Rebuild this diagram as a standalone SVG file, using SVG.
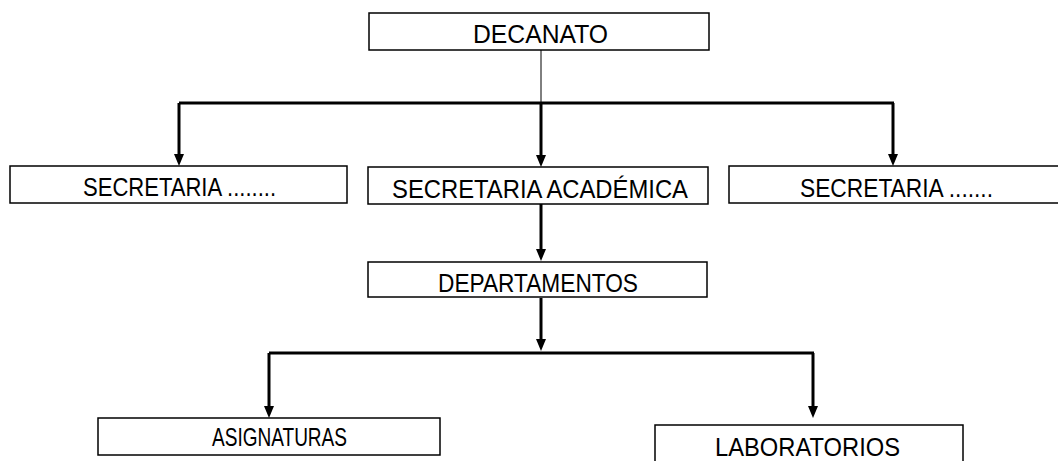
<svg xmlns="http://www.w3.org/2000/svg" width="1058" height="461" viewBox="0 0 1058 461">
<style>
.box{fill:#fff;stroke:#000;stroke-width:1.5}
.lbl{font-family:"Liberation Sans",Arial,sans-serif;font-size:26px;fill:#000}
.thick{stroke:#000;stroke-width:3;fill:none}
.thin{stroke:#000;stroke-width:1;fill:none}
</style>
<defs>
<marker id="ah" markerUnits="userSpaceOnUse" markerWidth="12" markerHeight="10" refX="0" refY="5" orient="auto" viewBox="0 0 12 10">
<path d="M0,0 L12,5 L0,10 Z" fill="#000"/>
</marker>
</defs>
<rect width="1058" height="461" fill="#fff"/>
<g id="connectors">
<line class="thin" x1="541" y1="50" x2="541" y2="103"/>
<line class="thick" x1="179" y1="103" x2="894" y2="103"/>
<path class="thick" d="M179,103 V154" marker-end="url(#ah)"/>
<path class="thick" d="M541,103 V155" marker-end="url(#ah)"/>
<path class="thick" d="M893,103 V154" marker-end="url(#ah)"/>
<path class="thick" d="M541,204 V249" marker-end="url(#ah)"/>
<path class="thick" d="M541,298 V339" marker-end="url(#ah)"/>
<line class="thick" x1="269" y1="353" x2="814" y2="353"/>
<path class="thick" d="M269,353 V406" marker-end="url(#ah)"/>
<path class="thick" d="M813,353 V406" marker-end="url(#ah)"/>
</g>
<g id="decanato">
<rect class="box" x="369" y="13" width="340" height="37"/>
<text class="lbl" x="473" y="43" textLength="135" lengthAdjust="spacingAndGlyphs">DECANATO</text>
</g>
<g id="secretaria-left">
<rect class="box" x="10" y="166" width="337" height="37"/>
<text class="lbl" x="83" y="196" textLength="193" lengthAdjust="spacingAndGlyphs">SECRETARIA ........</text>
</g>
<g id="secretaria-academica">
<rect class="box" x="368" y="167" width="340" height="37"/>
<text class="lbl" x="392" y="198" textLength="296" lengthAdjust="spacingAndGlyphs">SECRETARIA ACADÉMICA</text>
</g>
<g id="secretaria-right">
<rect class="box" x="729" y="166" width="345" height="37"/>
<text class="lbl" x="800" y="197" textLength="193" lengthAdjust="spacingAndGlyphs">SECRETARIA .......</text>
</g>
<g id="departamentos">
<rect class="box" x="368" y="262" width="339" height="35"/>
<text class="lbl" x="438" y="292" textLength="200" lengthAdjust="spacingAndGlyphs">DEPARTAMENTOS</text>
</g>
<g id="asignaturas">
<rect class="box" x="98" y="418" width="342" height="37"/>
<text class="lbl" x="212" y="446" textLength="135" lengthAdjust="spacingAndGlyphs">ASIGNATURAS</text>
</g>
<g id="laboratorios">
<rect class="box" x="655" y="425" width="308" height="50"/>
<text class="lbl" x="715" y="456" textLength="185" lengthAdjust="spacingAndGlyphs">LABORATORIOS</text>
</g>
</svg>
